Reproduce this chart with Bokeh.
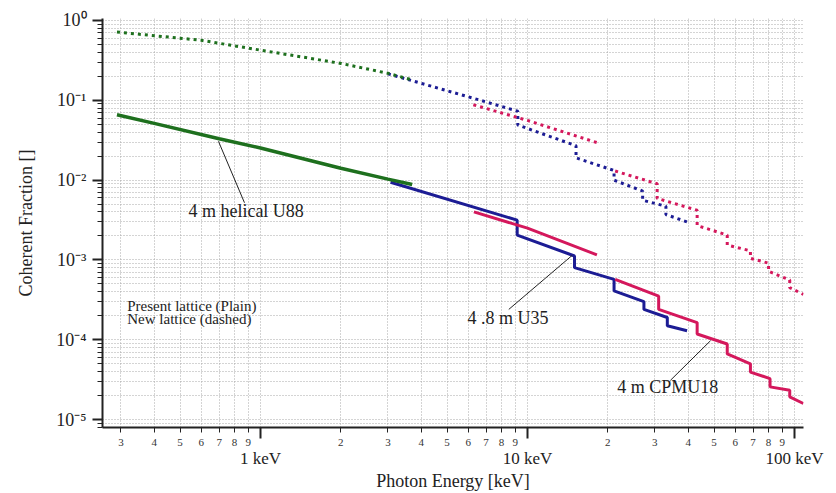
from bokeh.plotting import figure
from bokeh.models import FixedTicker, LogAxis, CustomJSTickFormatter, Label
from bokeh.embed import file_html
from bokeh.resources import INLINE

# ---------------- data ----------------
# 4 m helical U88
u88_present_e = [0.29, 0.4, 0.7, 1.0, 2.0, 3.0, 3.7]
u88_present_cf = [0.066, 0.0514, 0.0330, 0.0253, 0.0141, 0.0103, 0.0088]
u88_new_e = [0.29, 0.6, 1.0, 2.0, 3.0, 3.7]
u88_new_cf = [0.716, 0.565, 0.425, 0.29, 0.218, 0.18]

# 4.8 m U35
u35_present_e = [3.07, 9.15, 9.15, 15.0, 15.0, 21.1, 21.1, 27.3, 27.3, 33.4, 33.4, 39.6]
u35_present_cf = [0.0094, 0.00315, 0.00205, 0.00112, 0.00080, 0.00057, 0.00041,
                  0.00030, 0.00024, 0.00019, 0.00015, 0.00013]
u35_new_e = [3.0, 6.67, 9.2, 9.2, 15.2, 15.2, 21.1, 21.1, 27.0, 27.0, 33.0, 33.0, 39.6]
u35_new_cf = [0.215, 0.10, 0.073, 0.049, 0.027, 0.019, 0.0132, 0.0100, 0.0073,
              0.0056, 0.0047, 0.0037, 0.0030]

# 4 m CPMU18
cpmu_present_e1 = [6.3, 10.0, 18.2]
cpmu_present_cf1 = [0.0040, 0.0025, 0.00116]
cpmu_present_e2 = [21.3, 31.0, 31.0, 43.2, 43.2, 56.0, 56.0, 68.4, 68.4, 81.0, 81.0, 96.0, 96.0, 108.0]
cpmu_present_cf2 = [0.00057, 0.000352, 0.00024, 0.000164, 0.000118, 0.0000885, 0.0000665,
                    0.000050, 0.0000394, 0.0000326, 0.0000257, 0.0000233, 0.0000193, 0.0000159]
cpmu_new_e1 = [6.27, 10.0, 18.2]
cpmu_new_cf1 = [0.088, 0.056, 0.0295]
cpmu_new_e2 = [21.3, 30.6, 30.6, 43.2, 43.2, 56.0, 56.0, 68.4, 68.4, 80.0, 80.0, 96.0, 96.0, 108.0]
cpmu_new_cf2 = [0.0130, 0.0090, 0.0059, 0.0042, 0.0027, 0.00205, 0.00154, 0.0013,
                0.00105, 0.00091, 0.00072, 0.00056, 0.00045, 0.00037]

# tick positions
x_digit_ticks = [0.3, 0.4, 0.5, 0.6, 0.7, 0.8, 0.9, 2, 3, 4, 5, 6, 7, 8, 9,
                 20, 30, 40, 50, 60, 70, 80, 90]
x_decade_ticks = [1, 10, 100]
y_decade_ticks = [1e-5, 1e-4, 1e-3, 1e-2, 1e-1, 1e0]
y_minor_ticks = [k * d for d in [1e-6, 1e-5, 1e-4, 1e-3, 1e-2, 1e-1] for k in range(2, 10)]

# annotations: (text, x, y) and leader lines
ann_texts = ["4 m helical U88", "4 .8 m U35", "4  m CPMU18"]
ann_x = [0.537, 5.96, 21.7]
ann_y = [0.00415, 0.00019, 2.57e-5]
lead_x0 = [0.696, 14.7, 48.5]
lead_y0 = [0.0306, 0.00114, 9.75e-5]
lead_x1 = [0.871, 8.51, 34.3]
lead_y1 = [0.00521, 0.00024, 3.1e-5]
note_texts = ["Present lattice (Plain)", "New lattice (dashed)"]
note_x = [0.317, 0.317]
note_y = [2.65e-4, 1.81e-4]

FONT = "Liberation Serif"
GREEN = "#1e701e"
BLUE = "#1c1c94"
RED = "#d4185c"

p = figure(width=836, height=493, x_axis_type="log", y_axis_type="log",
           x_range=(0.256, 108.1), y_range=(7.96e-6, 1.059),
           output_backend="svg", toolbar_location=None,
           min_border_left=102, min_border_right=33,
           min_border_top=18, min_border_bottom=62)
p.outline_line_color = None
p.background_fill_color = "white"
p.border_fill_color = "white"

# grids
all_x_grid = sorted(x_digit_ticks + x_decade_ticks)
all_y_grid = sorted(y_decade_ticks + y_minor_ticks)
p.xgrid.ticker = FixedTicker(ticks=all_x_grid)
p.ygrid.ticker = FixedTicker(ticks=all_y_grid)
for g in (p.xgrid, p.ygrid):
    g.grid_line_color = "#a9a9a9"
    g.grid_line_dash = "1 2"
    g.grid_line_width = 1

# y axis
ya = p.yaxis[0]
ya.ticker = FixedTicker(ticks=y_decade_ticks, minor_ticks=y_minor_ticks)
ya.formatter = CustomJSTickFormatter(code="""
const e = Math.round(Math.log10(tick));
const sup = {'-':'\u207b','0':'\u2070','1':'\u00b9','2':'\u00b2','3':'\u00b3','4':'\u2074','5':'\u2075','6':'\u2076','7':'\u2077','8':'\u2078','9':'\u2079'};
return '10' + String(e).split('').map(c => sup[c]).join('');
""")
ya.major_tick_out = 10
ya.major_tick_in = 0
ya.minor_tick_out = 5
ya.minor_tick_in = 0
ya.axis_line_width = 2
ya.axis_line_color = "#222222"
ya.major_tick_line_color = "#222222"
ya.major_tick_line_width = 2
ya.minor_tick_line_color = "#222222"
ya.major_label_text_font = FONT
ya.major_label_text_font_size = "18px"
ya.major_label_text_color = "#222222"
ya.major_label_standoff = 6
ya.axis_label = "Coherent Fraction []"
ya.axis_label_text_font = FONT
ya.axis_label_text_font_size = "18px"
ya.axis_label_text_font_style = "normal"
ya.axis_label_text_color = "#222222"
ya.axis_label_standoff = 17

# x axis (digits)
xa = p.xaxis[0]
xa.ticker = FixedTicker(ticks=x_digit_ticks, minor_ticks=x_decade_ticks)
xa.formatter = CustomJSTickFormatter(code="""
const e = Math.floor(Math.log10(tick) + 1e-9);
return String(Math.round(tick / Math.pow(10, e)));
""")
xa.major_tick_out = 5
xa.major_tick_in = 0
xa.minor_tick_out = 11
xa.minor_tick_in = 0
xa.axis_line_width = 2
xa.axis_line_color = "#222222"
xa.major_tick_line_color = "#222222"
xa.minor_tick_line_color = "#222222"
xa.minor_tick_line_width = 2
xa.major_label_text_font = FONT
xa.major_label_text_font_size = "11px"
xa.major_label_text_color = "#333333"
xa.major_label_standoff = 0

# x axis (decade labels + title)
xa2 = LogAxis(ticker=FixedTicker(ticks=x_decade_ticks, minor_ticks=[]),
              formatter=CustomJSTickFormatter(code="return String(Math.round(tick)) + ' keV';"))
xa2.axis_line_color = None
xa2.major_tick_line_color = None
xa2.minor_tick_line_color = None
xa2.major_tick_out = 0
xa2.major_tick_in = 0
xa2.major_label_standoff = 0
xa2.major_label_text_font = FONT
xa2.major_label_text_font_size = "17px"
xa2.major_label_text_color = "#222222"
xa2.axis_label = "Photon Energy [keV]"
xa2.axis_label_text_font = FONT
xa2.axis_label_text_font_size = "18px"
xa2.axis_label_text_font_style = "normal"
xa2.axis_label_text_color = "#222222"
xa2.axis_label_standoff = 0
p.add_layout(xa2, "below")

# curves
DOT = "3 4"
p.line(u35_new_e, u35_new_cf, color=BLUE, line_width=3, line_dash=DOT)
p.line(u35_present_e, u35_present_cf, color=BLUE, line_width=3)
p.line(cpmu_new_e1, cpmu_new_cf1, color=RED, line_width=3, line_dash=DOT)
p.line(cpmu_new_e2, cpmu_new_cf2, color=RED, line_width=3, line_dash=DOT)
p.line(cpmu_present_e1, cpmu_present_cf1, color=RED, line_width=3)
p.line(cpmu_present_e2, cpmu_present_cf2, color=RED, line_width=3)
p.line(u88_new_e, u88_new_cf, color=GREEN, line_width=3, line_dash=DOT)
p.line(u88_present_e, u88_present_cf, color=GREEN, line_width=3.5)

# leader lines
p.segment(x0=lead_x0, y0=lead_y0, x1=lead_x1, y1=lead_y1, color="#222222", line_width=1)

for t, x, y in zip(ann_texts, ann_x, ann_y):
    p.add_layout(Label(x=x, y=y, text=t, text_font=FONT, text_font_size="18px",
                       text_baseline="middle", text_align="left", text_color="#222222"))
for t, x, y in zip(note_texts, note_x, note_y):
    p.add_layout(Label(x=x, y=y, text=t, text_font=FONT, text_font_size="15px",
                       text_baseline="middle", text_align="left", text_color="#222222"))

open("out.html", "w").write(file_html(p, INLINE))
